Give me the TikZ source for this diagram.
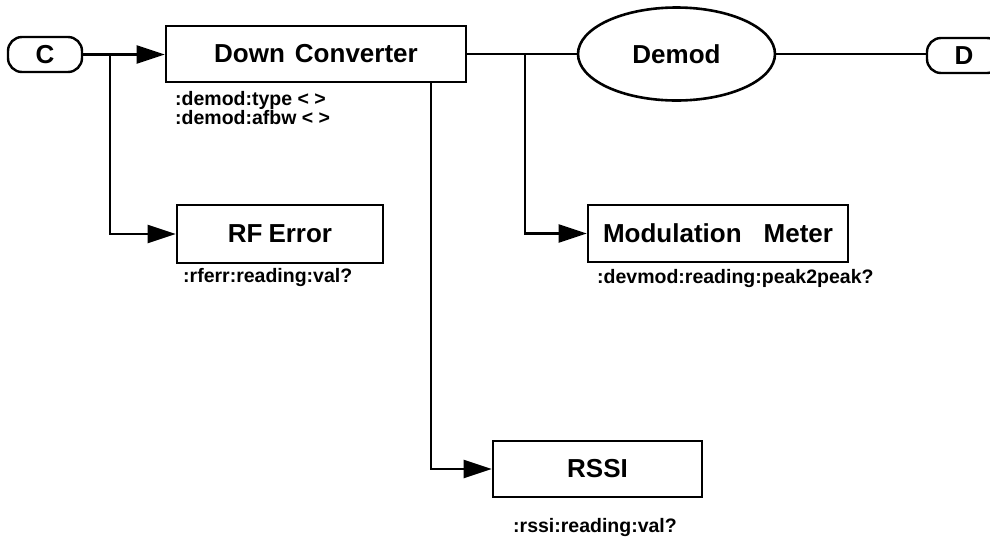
\documentclass[tikz,border=0pt]{standalone}
\usepackage{fontspec}
\setmainfont{Liberation Sans}
\usetikzlibrary{arrows.meta,shapes.geometric}
\begin{document}
\begin{tikzpicture}[x=1pt,y=-1pt,
  big/.style={font=\fontsize{26}{30}\selectfont\bfseries},
  small/.style={font=\fontsize{19.5}{23}\selectfont\bfseries,inner sep=0pt},
  blk/.style={draw,line width=2.6pt,inner sep=0pt,big},
  term/.style={draw,line width=2.4pt,rounded corners=14pt,minimum width=74pt,minimum height=35pt,inner sep=0pt,big},
  conn/.style={line width=2.4pt},
  arr/.style={line width=2.4pt,-{Triangle[length=28pt,width=18pt]}}]
\useasboundingbox (0,0) rectangle (990,542);
% terminals
\node[term] (C) at (45,54.5) {C};
\node[term] (D) at (964,55.5) {D};
% blocks
\node[blk,minimum width=300pt,minimum height=56pt] (DC) at (316,54) {Down\hspace{10pt}Converter};
\node[blk,ellipse,minimum width=197pt,minimum height=93pt] (DM) at (676.5,54) {Demod};
\node[blk,minimum width=206pt,minimum height=58pt] (RF) at (280,234) {RF\hspace{6pt}Error};
\node[blk,minimum width=260pt,minimum height=57pt] (MM) at (718,233.5) {Modulation\hspace{22pt}Meter};
\node[blk,minimum width=209pt,minimum height=56pt] (RS) at (597.5,469) {RSSI};
% labels
\node[small,anchor=west] (l1) at (175,100) {:demod:type < >};
\node[small,anchor=west] (l2) at (175,118) {:demod:afbw < >};
\node[small,anchor=west] (l3) at (183,277) {:rferr:reading:val?};
\node[small,anchor=west] (l4) at (597,278) {:devmod:reading:peak2peak?};
\node[small,anchor=west] (l5) at (513,527) {:rssi:reading:val?};
% junction columns
\coordinate (j1) at (110,0);
\coordinate (j2) at (525,0);
\coordinate (j3) at (431,0);
% connectors
\draw[arr] (C.east) -- (C.east -| DC.west);
\draw[arr] (j1 |- C.east) |- (RF.west);
\draw[conn] (DC.east) -- (DM.west);
\draw[arr] (j2 |- DC.east) |- (MM.west);
\draw[arr] (j3 |- DC.south) |- (RS.west);
\draw[conn] (DM.east) -- (DM.east -| D.west);
\end{tikzpicture}
\end{document}
